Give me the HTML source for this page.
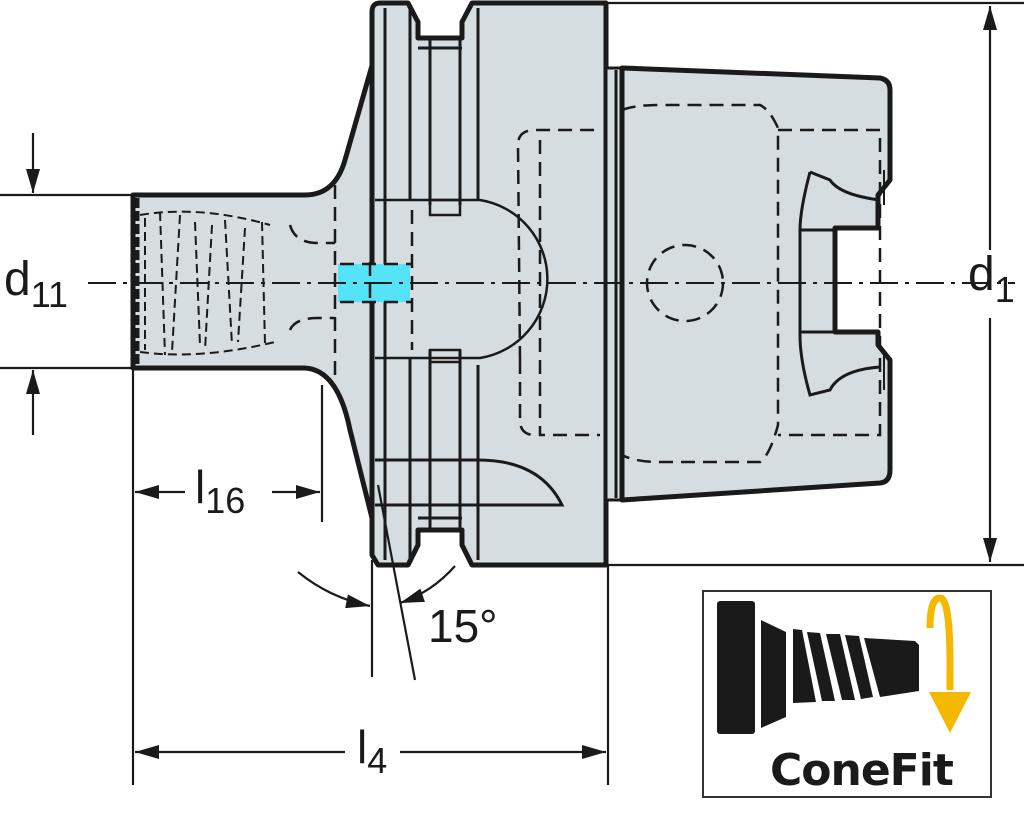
<!DOCTYPE html>
<html><head><style>
html,body{margin:0;padding:0;background:#fff;}
svg{display:block;}
text{font-family:"Liberation Sans",sans-serif;fill:#1a1a1a;}
</style></head><body>
<svg width="1024" height="815" viewBox="0 0 1024 815" xmlns="http://www.w3.org/2000/svg">
<defs>
<marker id="arL" markerWidth="24" markerHeight="14" refX="24" refY="7" orient="auto" markerUnits="userSpaceOnUse">
<path d="M0,0 L24,7 L0,14 z" fill="#1a1a1a"/></marker>
</defs>
<g stroke="#1a1a1a" fill="#d5dde0" stroke-linejoin="round">
<path d="M133,195 L305,195 Q335,195 345,160 L375,55 L375,530 L350,430 Q338,370 305,368 L133,368 Z" stroke-width="5"/>
<path d="M372,12 Q372,3 380,3 L408,3 L418,22 L418,38 L462,38 L462,22 L472,3 L606,3 L606,565 L472,565 L462,545 L462,530 L418,530 L418,545 L408,565 L378,565 L372,555 Z" stroke-width="5"/>
<rect x="606" y="68" width="16" height="432" stroke-width="3"/>
<path d="M622,68 L880,78 Q890,80 890,90 L890,180 L878,195 L878,228 L835,228 L835,332 L878,332 L878,345 L890,360 L890,470 Q890,482 880,483 L622,500 Z" stroke-width="5"/>
</g>
<g stroke="#1a1a1a" fill="none" stroke-width="3">
<line x1="385" y1="8" x2="385" y2="560"/>
<line x1="410" y1="8" x2="410" y2="200"/>
<line x1="410" y1="358" x2="410" y2="560"/>
<line x1="430" y1="38" x2="430" y2="205"/>
<line x1="460" y1="38" x2="460" y2="205"/>
<line x1="430" y1="350" x2="430" y2="530"/>
<line x1="460" y1="350" x2="460" y2="530"/>
<line x1="478" y1="8" x2="478" y2="200"/>
<line x1="478" y1="365" x2="478" y2="560"/>
<line x1="418" y1="48" x2="462" y2="48"/>
<line x1="418" y1="518" x2="462" y2="518"/>
<line x1="375" y1="460" x2="478" y2="460"/>
<line x1="375" y1="505" x2="478" y2="505"/>
<path d="M478,460 Q540,460 562,505 L478,505"/>
<line x1="616" y1="70" x2="616" y2="498"/>
<path d="M375,200 L480,200 A80,80 0 0 1 480,358 L375,358" stroke-width="2.5"/>
<rect x="430" y="200" width="30" height="15" stroke-width="2.5"/>
<rect x="430" y="350" width="30" height="12" stroke-width="2.5"/>
</g>
<rect x="338" y="264" width="72" height="38" fill="#55e3f7"/>
<g stroke="#1a1a1a" fill="none" stroke-width="2.5" stroke-dasharray="14,8">
<line x1="335" y1="185" x2="335" y2="375"/>
<path d="M340,264 L412,264 M340,302 L412,302 M370,262 L370,305"/>
<line x1="412" y1="210" x2="412" y2="350"/>
<path d="M290,225 Q295,243 318,243 L335,243 M290,330 Q295,318 318,318 L335,318"/>
<path d="M520,360 L518,145 Q518,130 535,130 L600,130"/>
<path d="M540,140 L540,435 L600,435"/>
<path d="M520,360 L520,420 Q520,435 535,435"/>
<path d="M622,110 Q635,105 660,105 L760,105 Q770,110 778,128 L778,425 Q770,455 760,462 L660,462 Q635,462 622,455"/>
<path d="M778,130 L880,130 L880,435 L778,435"/>
<circle cx="685" cy="283" r="38"/>
<path d="M145,218 L145,350 M160,212 L165,355 M180,215 L172,352 M195,222 L200,345 M212,225 L205,350 M225,220 L232,345 M245,228 L238,342 M262,222 L265,345" stroke-width="2" stroke-dasharray="9,5"/>
<path d="M140,215 Q200,205 270,225 M140,352 Q200,360 275,342" stroke-width="2" stroke-dasharray="9,5"/>
</g>
<line x1="137" y1="198" x2="137" y2="365" stroke="#1a1a1a" stroke-width="5" stroke-dasharray="10,3"/>
<g stroke="#1a1a1a" fill="none" stroke-width="3">
<path d="M810,172 Q800,210 800,230 L800,335 Q800,360 810,395 L830,390 Q840,370 880,367"/>
<path d="M810,172 L830,180 Q840,195 880,200"/>
<line x1="800" y1="230" x2="835" y2="230"/>
<line x1="800" y1="332" x2="835" y2="332"/>
<path d="M884,170 L884,205 M884,355 L884,390" stroke-width="2"/>
</g>
<line x1="88" y1="283" x2="1015" y2="283" stroke="#1a1a1a" stroke-width="2" stroke-dasharray="28,7,4,7"/>
<g stroke="#1a1a1a" stroke-width="2.2" fill="none">
<line x1="0" y1="195" x2="133" y2="195"/>
<line x1="0" y1="368" x2="133" y2="368"/>
<line x1="33" y1="133" x2="33" y2="193" marker-end="url(#arL)"/>
<line x1="33" y1="435" x2="33" y2="370" marker-end="url(#arL)"/>
<line x1="606" y1="3" x2="1024" y2="3"/>
<line x1="606" y1="565" x2="1024" y2="565"/>
<line x1="990" y1="150" x2="990" y2="6" marker-end="url(#arL)"/>
<line x1="990" y1="410" x2="990" y2="562" marker-end="url(#arL)"/>
<line x1="990" y1="150" x2="990" y2="250"/>
<line x1="990" y1="318" x2="990" y2="410"/>
<line x1="133" y1="368" x2="133" y2="785"/>
<line x1="322" y1="385" x2="322" y2="522"/>
<line x1="185" y1="492" x2="135" y2="492" marker-end="url(#arL)"/>
<line x1="272" y1="492" x2="320" y2="492" marker-end="url(#arL)"/>
<line x1="608" y1="565" x2="608" y2="785"/>
<line x1="345" y1="752" x2="135" y2="752" marker-end="url(#arL)"/>
<line x1="400" y1="752" x2="606" y2="752" marker-end="url(#arL)"/>
<line x1="372" y1="560" x2="372" y2="677"/>
<line x1="378" y1="485" x2="415" y2="680"/>
<path d="M298,572 Q330,598 370,606" marker-end="url(#arL)"/>
<path d="M455,566 Q432,592 400,603" marker-end="url(#arL)"/>
</g>
<text x="4" y="295" font-size="48">d<tspan font-size="36" dy="12">11</tspan></text>
<text x="968" y="290" font-size="48">d<tspan font-size="36" dy="12">1</tspan></text>
<text x="195" y="503" font-size="46">l<tspan font-size="36" dy="10">16</tspan></text>
<text x="357" y="763" font-size="46">l<tspan font-size="36" dy="10">4</tspan></text>
<text x="428" y="642" font-size="46">15°</text>
<rect x="703" y="591" width="288" height="206" fill="#fff" stroke="#333" stroke-width="2"/>
<g fill="#1a1a1a">
<rect x="717" y="601" width="38" height="133" rx="3"/>
<path d="M761,620 L786,632 L786,717 L761,728 Z"/>
<path d="M793,629 L802,630 L816,702 L793,703 Z"/>
<path d="M807,632 L820,633 L835,701 L822,701 Z"/>
<path d="M826,634 L840,634 L855,700 L842,700 Z"/>
<path d="M845,635 L859,636 L873,697 L861,699 Z"/>
<path d="M864,638 L915,641 L919,645 L919,691 L880,697 Z"/>
</g>
<path d="M930,628 Q930,598 940,598 Q950,598 950,665 L950,690" stroke="#f5b800" stroke-width="7" fill="none"/>
<path d="M929,692 L971,692 L950,733 Z" fill="#f5b800"/>
<text x="770" y="785" font-size="44" font-weight="bold" style="font-family:'DejaVu Sans',sans-serif" fill="#1a1a1a" letter-spacing="-1">ConeFit</text>
</svg>
</body></html>
